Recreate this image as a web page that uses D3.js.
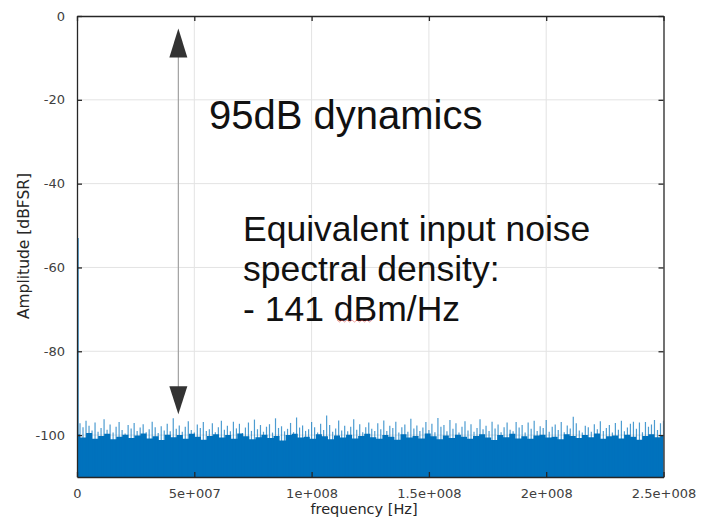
<!DOCTYPE html>
<html><head><meta charset="utf-8">
<script src="https://cdn.jsdelivr.net/npm/d3@7"></script>
<style>body{margin:0;background:#fff}svg{display:block}</style>
</head><body>
<svg id="c" width="710" height="518"></svg>
<script>
const freqTicks=[0,5e7,1e8,1.5e8,2e8,2.5e8];
const freqTickLabels=["0","5e+007","1e+008","1.5e+008","2e+008","2.5e+008"];
const ampTicks=[0,-20,-40,-60,-80,-100];
const ampTickLabels=["0","-20","-40","-60","-80","-100"];
const freqMax=2.5e8;
const dcValue=-53;
const noisePeak=[
-96.4,-97.2,-98.1,-96.6,-97.8,-98.9,-97.0,-99.2,-98.3,-96.2,
-98.7,-97.5,-99.4,-98.0,-96.9,-98.8,-99.6,-97.6,-98.4,-97.1,
-99.0,-98.2,-97.4,-99.3,-98.6,-96.8,-98.1,-99.5,-97.9,-98.9,
-97.3,-99.1,-96.0,-98.5,-97.7,-99.2,-98.0,-96.7,-98.8,-99.4,
-97.5,-98.3,-96.9,-99.0,-98.6,-97.2,-99.3,-98.1,-96.6,-98.7,
-97.8,-99.1,-96.8,-98.4,-97.3,-99.5,-98.2,-97.0,-99.0,-96.3,
-98.6,-97.6,-99.2,-98.0,-97.4,-99.4,-96.0,-98.3,-97.9,-99.1,
-98.5,-97.1,-99.3,-95.8,-98.2,-97.7,-99.0,-98.6,-96.9,-98.1,
-99.4,-97.3,-98.8,-95.3,-97.6,-99.2,-98.4,-96.5,-98.9,-97.8,
-99.1,-98.0,-96.2,-98.7,-97.4,-99.3,-98.1,-97.0,-98.5,-99.0,
-97.2,-98.6,-96.5,-99.0,-97.8,-98.3,-96.8,-99.4,-98.1,-97.5,
-99.2,-96.1,-98.4,-97.7,-99.0,-98.2,-96.9,-98.8,-97.3,-99.3,
-95.9,-98.0,-97.6,-99.1,-96.4,-98.5,-97.2,-99.4,-98.0,-96.7,
-98.9,-97.4,-99.2,-98.3,-96.2,-98.6,-97.8,-99.0,-96.8,-98.4,
-97.5,-99.3,-98.1,-97.0,-98.7,-99.1,-96.9,-98.2,-97.6,-99.4,
-97.0,-98.5,-96.6,-99.0,-97.9,-98.3,-96.4,-99.2,-98.0,-97.5,
-98.8,-96.9,-99.3,-97.7,-98.4,-95.6,-97.2,-98.9,-99.4,-97.8,
-98.1,-99.2,-97.4,-98.6,-96.7,-99.0,-98.3,-97.6,-99.4,-97.1,
-98.7,-96.6,-99.1,-98.2,-97.3,-96.8,-98.5,-97.0,-99.3,-96.9,
-98.0,-97.5,-96.4,-98.8,-97.2,-96.6
];
const noiseFloor=[
-99.8,-100.6,-99.5,-100.9,-100.2,-99.7,-101.0,-100.4,-99.9,-100.7,
-100.1,-99.6,-100.8,-100.3,-101.2,-99.9,-100.5,-100.0,-100.9,-99.7,
-100.4,-101.1,-100.2,-99.8,-100.6,-100.0,-100.9,-99.6,-100.3,-101.0,
-100.5,-99.9,-100.7,-100.2,-101.3,-100.0,-99.7,-100.6,-100.4,-100.9,
-99.8,-100.3,-101.0,-100.1,-100.6,-99.9,-100.8,-100.2,-99.7,-100.5,
-100.9,-100.0,-100.4,-101.1,-99.8,-100.6,-100.2,-100.8,-99.6,-100.3,
-101.0,-100.1,-100.7,-99.9,-100.4,-100.9,-100.2,-99.8,-100.6,-101.2,
-100.0,-100.5,-99.7,-100.8,-100.3,-100.9,-100.1,-99.9,-100.6,-100.4,
-101.0,-99.8,-100.2,-100.7,-100.0,-100.5,-99.6,-100.9,-100.3,-100.1,
-100.8,-99.9,-100.4,-101.1,-100.2,-99.8,-100.5,-100.0
];
// annotation (data coords)
const arrowFreq=4.32e7, arrowTop=-3, arrowBottom=-95;
const titleText="95dB dynamics";
const noteLines=["Equivalent input noise","spectral density:","- 141 dBm/Hz"];

const svg=d3.select("#c");
svg.append("rect").attr("width",710).attr("height",518).attr("fill","#fff");
const L=77,R=663.5,T=16,B=477;
const x=d3.scaleLinear([0,freqMax],[L,R]);
const y=d3.scaleLinear([-110,0],[B,T]);
const tickFont="DejaVu Sans, sans-serif";

// cut-off text at top (as in the reference)
svg.append("text").attr("x",92).attr("y",-3).attr("font-family",tickFont).attr("font-size",14).attr("fill","#262626").text("p");

// grid
const g=svg.append("g");
g.selectAll(".gx").data(freqTicks.slice(1,-1)).join("line")
 .attr("x1",d=>x(d)).attr("x2",d=>x(d)).attr("y1",T).attr("y2",B)
 .attr("stroke","#e3e3e3").attr("stroke-width",1);
g.selectAll(".gy").data(ampTicks.slice(1)).join("line")
 .attr("x1",L).attr("x2",R).attr("y1",d=>y(d)).attr("y2",d=>y(d))
 .attr("stroke","#e3e3e3").attr("stroke-width",1);

// clip
svg.append("clipPath").attr("id","clip").append("rect").attr("x",L).attr("y",T).attr("width",R-L).attr("height",B-T);
const plot=svg.append("g").attr("clip-path","url(#clip)");
const col="#0072BD";
const floorPts=noiseFloor.map((v,i)=>[i/(noiseFloor.length-1)*freqMax,v]);
plot.append("path").datum(floorPts)
 .attr("d",d3.area().x(d=>x(d[0])).y0(y(-110)).y1(d=>y(d[1])).curve(d3.curveStep))
 .attr("fill",col);
const peakPts=noisePeak.map((v,i)=>[i/(noisePeak.length-1)*freqMax,v]);
plot.selectAll(".pk").data(peakPts).join("line")
 .attr("x1",d=>x(d[0])).attr("x2",d=>x(d[0]))
 .attr("y1",y(-110)).attr("y2",d=>y(d[1]))
 .attr("stroke",col).attr("stroke-width",1.2).attr("stroke-opacity",0.7);
// dc spike
plot.append("line").attr("x1",x(0)+0.8).attr("x2",x(0)+0.8).attr("y1",y(-110)).attr("y2",y(dcValue))
 .attr("stroke",col).attr("stroke-width",1.6);

// axes
function styleAxis(sel){
  sel.select(".domain").attr("stroke","#262626").attr("stroke-width",1.3);
  sel.selectAll(".tick line").attr("stroke","#262626").attr("stroke-width",1.3);
  sel.selectAll(".tick text").attr("fill","#404040").attr("font-family",tickFont).attr("font-size",13);
}
const ax=svg.append("g").attr("transform",`translate(0,${B})`)
 .call(d3.axisBottom(x).tickValues(freqTicks).tickFormat((d,i)=>freqTickLabels[i]).tickSizeInner(-5).tickSizeOuter(0).tickPadding(12));
styleAxis(ax);
const axt=svg.append("g").attr("transform",`translate(0,${T})`)
 .call(d3.axisTop(x).tickValues(freqTicks).tickFormat("").tickSizeInner(-5).tickSizeOuter(0));
styleAxis(axt);
const ay=svg.append("g").attr("transform",`translate(${L},0)`)
 .call(d3.axisLeft(y).tickValues(ampTicks).tickFormat((d,i)=>ampTickLabels[i]).tickSizeInner(-5).tickSizeOuter(0).tickPadding(12));
styleAxis(ay);
const ayr=svg.append("g").attr("transform",`translate(${R},0)`)
 .call(d3.axisRight(y).tickValues(ampTicks).tickFormat("").tickSizeInner(-5).tickSizeOuter(0));
styleAxis(ayr);

// axis labels
svg.append("text").attr("x",364).attr("y",514).attr("text-anchor","middle")
 .attr("font-family",tickFont).attr("font-size",14.5).attr("fill","#262626").text("frequency [Hz]");
svg.append("text").attr("transform",`translate(29,246) rotate(-90)`).attr("text-anchor","middle")
 .attr("font-family",tickFont).attr("font-size",15.5).attr("fill","#262626").text("Amplitude [dBFSR]");

// arrow
const ax0=x(arrowFreq), yTop=y(arrowTop), yBot=y(arrowBottom);
svg.append("line").attr("x1",ax0).attr("x2",ax0).attr("y1",yTop+20).attr("y2",yBot-20)
 .attr("stroke","#a0a0a0").attr("stroke-width",1.2);
svg.append("path").attr("d",`M${ax0},${yTop} L${ax0-9},${yTop+29} L${ax0+9},${yTop+29} Z`).attr("fill","#333");
svg.append("path").attr("d",`M${ax0},${yBot} L${ax0-9},${yBot-28} L${ax0+9},${yBot-28} Z`).attr("fill","#333");

// annotations
const af="Liberation Sans, Arial, sans-serif";
svg.append("text").attr("x",209).attr("y",129).attr("font-family",af).attr("font-size",40).attr("fill","#111").text(titleText);
noteLines.forEach((t,i)=>{
  svg.append("text").attr("x",243).attr("y",241+i*40).attr("font-family",af).attr("font-size",35.5).attr("fill","#111").text(t);
});
// spell-check squiggle under dBm
let sq="M337,320";
for(let i=0;i<14;i++){ sq+=` l2.5,${i%2?-2:2}`; }
svg.append("path").attr("d",sq).attr("fill","none").attr("stroke","#e05050").attr("stroke-width",0.8).attr("opacity",0.7);
</script>
</body></html>
